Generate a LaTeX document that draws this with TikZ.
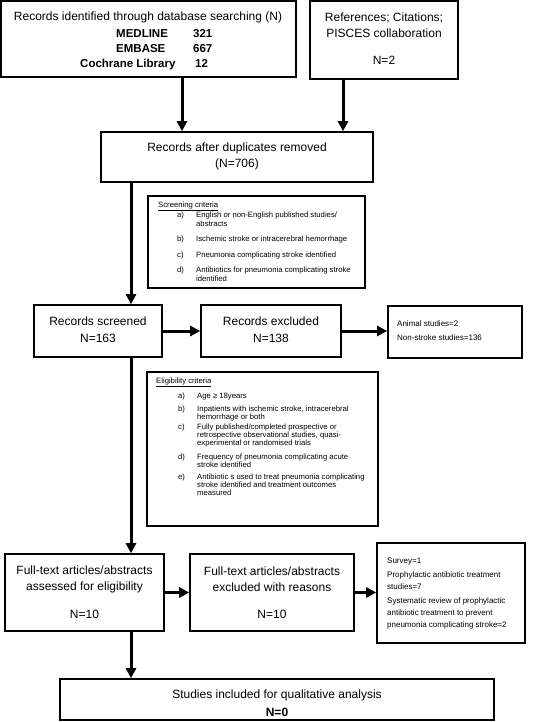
\documentclass[tikz,border=0pt]{standalone}
\usepackage{fontspec}
\setmainfont{Liberation Sans}
\usetikzlibrary{arrows.meta}
\begin{document}
\begin{tikzpicture}[x=1pt,y=-1pt,
  box/.style={draw, line width=1.6pt, inner sep=0pt},
  arr/.style={line width=3pt, -{Triangle[length=10pt,width=10pt]}},
  big/.style={font=\fontsize{12}{16}\selectfont, align=center, inner sep=0pt},
  bigb/.style={font=\bfseries\fontsize{11.5}{14}\selectfont, anchor=west, inner sep=0pt, text height=8.3pt, text depth=0pt},
  sm/.style={font=\fontsize{7.7}{8.5}\selectfont, anchor=west, inner sep=0pt, text height=5.6pt, text depth=1.5pt},
  side/.style={font=\fontsize{8}{11}\selectfont, anchor=west, inner sep=0pt, text height=5.8pt, text depth=1.6pt},
]
\useasboundingbox (0,0) rectangle (540,722);
% boxes
\node[box, minimum width=295pt, minimum height=76pt] (b1) at (148.5,39) {};
\node[box, minimum width=148pt, minimum height=78pt] (b2) at (384,40) {};
\node[box, minimum width=272pt, minimum height=50pt] (b3) at (237,157) {};
\node[box, minimum width=217pt, minimum height=92pt] (scr) at (256.5,242) {};
\node[box, minimum width=128pt, minimum height=52pt] (rs) at (98,331) {};
\node[box, minimum width=140pt, minimum height=52pt] (rex) at (271,331) {};
\node[box, minimum width=134pt, minimum height=52pt] (ran) at (455,332) {};
\node[box, minimum width=231pt, minimum height=154pt] (elig) at (262.5,449) {};
\node[box, minimum width=159pt, minimum height=77pt] (fa) at (84.5,592.5) {};
\node[box, minimum width=164pt, minimum height=77pt] (fe) at (272,592.5) {};
\node[box, minimum width=148pt, minimum height=100pt] (fs) at (451,593) {};
\node[box, minimum width=434pt, minimum height=41pt] (fin) at (277,699.5) {};

% box 1 text
\node[big] (t1) at (148,17) {Records identified through database searching (N)};
\node[bigb] (m1) at (116,33) {MEDLINE};
\node[bigb] (m2) at (193,33) {321};
\node[bigb] (e1) at (116,48) {EMBASE};
\node[bigb] (e2) at (193,48) {667};
\node[bigb] (c1) at (80,63) {Cochrane Library};
\node[bigb] (c2) at (195,63) {12};
% box 2 text
\node[big] (t2) at (384,25) {References; Citations;\\PISCES collaboration};
\node[big] (t2n) at (384,60) {N=2};
% box 3
\node[big] (t3) at (237,156) {Records after duplicates removed\\(N=706)};
% screening criteria
\node[sm] (sh) at (158,205) {\underline{Screening criteria}};
\node[sm] (sa) at (177,215) {a)};
\node[sm] (sa1) at (196,215) {English or non-English published studies/};
\node[sm] (sa2) at (196,224) {abstracts};
\node[sm] (sb) at (177,239) {b)};
\node[sm] (sb1) at (196,239) {Ischemic stroke or intracerebral hemorrhage};
\node[sm] (sc) at (177,255) {c)};
\node[sm] (sc1) at (196,255) {Pneumonia complicating stroke identified};
\node[sm] (sd) at (177,270) {d)};
\node[sm] (sd1) at (196,270) {Antibiotics for pneumonia complicating stroke};
\node[sm] (sd2) at (196,279) {identified};
% row 1
\node[big] (t4) at (98,329.5) {Records screened\\[1pt]N=163};
\node[big] (t5) at (271,329.5) {Records excluded\\[1pt]N=138};
\node[side] (r1) at (397,324) {Animal studies=2};
\node[side] (r2) at (397,338) {Non-stroke studies=136};
% eligibility
\node[sm] (eh) at (156,381) {\underline{Eligibility criteria}};
\node[sm] (ea) at (178,396) {a)};
\node[sm] (ea1) at (197,396) {Age ≥ 18years};
\node[sm] (eb) at (178,409) {b)};
\node[sm] (eb1) at (197,409) {Inpatients with ischemic stroke, intracerebral};
\node[sm] (eb2) at (197,417) {hemorrhage or both};
\node[sm] (ec) at (178,427) {c)};
\node[sm] (ec1) at (197,427) {Fully published/completed prospective or};
\node[sm] (ec2) at (197,435) {retrospective observational studies, quasi-};
\node[sm] (ec3) at (197,443) {experimental or randomised trials};
\node[sm] (ed) at (178,457) {d)};
\node[sm] (ed1) at (197,457) {Frequency of pneumonia complicating acute};
\node[sm] (ed2) at (197,465) {stroke identified};
\node[sm] (ee) at (178,477) {e)};
\node[sm] (ee1) at (197,477) {Antibiotic s used to treat pneumonia complicating};
\node[sm] (ee2) at (197,485) {stroke identified and treatment outcomes};
\node[sm] (ee3) at (197,493) {measured};
% row 2
\node[big] (t6) at (84.5,579) {Full-text articles/abstracts\\assessed for eligibility};
\node[big] (t6n) at (84.5,614) {N=10};
\node[big] (t7) at (272,579) {Full-text articles/abstracts\\excluded with reasons};
\node[big] (t7n) at (272,614) {N=10};
\node[side] (s1) at (387,561) {Survey=1};
\node[side] (s2) at (387,575) {Prophylactic antibiotic treatment};
\node[side] (s3) at (387,587) {studies=7};
\node[side] (s4) at (387,601) {Systematic review of prophylactic};
\node[side] (s5) at (387,613) {antibiotic treatment to prevent};
\node[side] (s6) at (387,625) {pneumonia complicating stroke=2};
% final
\node[big] (t8) at (277,695) {Studies included for qualitative analysis};
\node[big, font=\bfseries\fontsize{12}{14}\selectfont] (t8n) at (277,712) {N=0};

% connectors
\coordinate (x1) at (182,0);
\coordinate (x2) at (343,0);
\coordinate (vx) at (131,0);
\draw[arr] (b1.south -| x1) -- (b3.north -| x1);
\draw[arr] (b2.south -| x2) -- (b3.north -| x2);
\draw[arr] (b3.south -| vx) -- (rs.north -| vx);
\draw[arr] (rs.east) -- (rex.west);
\draw[arr] (rex.east) -- (rex.east -| ran.west);
\draw[arr] (rs.south -| vx) -- (fa.north -| vx);
\draw[arr] (fa.east) -- (fe.west);
\draw[arr] (fe.east) -- (fe.east -| fs.west);
\draw[arr] (fa.south -| vx) -- (fin.north -| vx);
\end{tikzpicture}
\end{document}
